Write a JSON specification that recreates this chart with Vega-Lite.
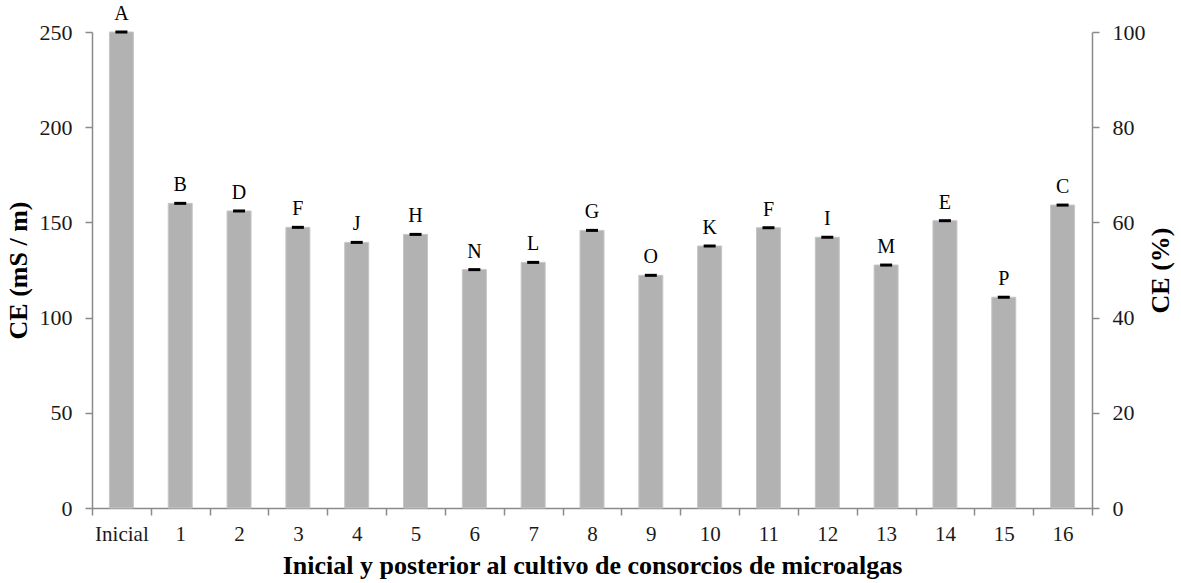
{
  "$schema": "https://vega.github.io/schema/vega-lite/v6.json",
  "autosize": "none",
  "width": 1000,
  "height": 476,
  "padding": {"left": 92, "top": 32, "right": 89, "bottom": 75},
  "background": "white",
  "config": {
    "view": {"stroke": null},
    "font": "Liberation Serif",
    "axis": {
      "labelFont": "Liberation Serif",
      "titleFont": "Liberation Serif",
      "labelFontSize": 22,
      "titleFontSize": 26,
      "titleFontWeight": "bold",
      "labelColor": "#1a1a1a",
      "titleColor": "#000000",
      "domainColor": "#8a8a8a",
      "tickColor": "#8a8a8a",
      "domainWidth": 1.5,
      "tickWidth": 1.5,
      "tickSize": 7,
      "grid": false
    }
  },
  "data": {
    "values": [
      {"muestra": "Inicial", "ce": 250.0, "grupo": "A"},
      {"muestra": "1", "ce": 160.0, "grupo": "B"},
      {"muestra": "2", "ce": 156.0, "grupo": "D"},
      {"muestra": "3", "ce": 147.4, "grupo": "F"},
      {"muestra": "4", "ce": 139.5, "grupo": "J"},
      {"muestra": "5", "ce": 143.7, "grupo": "H"},
      {"muestra": "6", "ce": 125.2, "grupo": "N"},
      {"muestra": "7", "ce": 129.0, "grupo": "L"},
      {"muestra": "8", "ce": 145.8, "grupo": "G"},
      {"muestra": "9", "ce": 122.2, "grupo": "O"},
      {"muestra": "10", "ce": 137.6, "grupo": "K"},
      {"muestra": "11", "ce": 147.2, "grupo": "F"},
      {"muestra": "12", "ce": 142.2, "grupo": "I"},
      {"muestra": "13", "ce": 127.6, "grupo": "M"},
      {"muestra": "14", "ce": 150.9, "grupo": "E"},
      {"muestra": "15", "ce": 110.7, "grupo": "P"},
      {"muestra": "16", "ce": 159.1, "grupo": "C"}
    ]
  },
  "encoding": {
    "x": {
      "field": "muestra",
      "type": "nominal",
      "sort": null,
      "scale": {"paddingInner": 0, "paddingOuter": 0},
      "axis": {
        "title": "Inicial y posterior al cultivo de consorcios de microalgas",
        "labelAngle": 0,
        "labelFontSize": 21,
        "tickBand": "extent",
        "labelPadding": 8,
        "titlePadding": 8
      }
    }
  },
  "layer": [
    {
      "layer": [
        {
          "mark": {"type": "bar", "color": "#b2b2b2", "size": 24, "stroke": "#c6c6c6", "strokeWidth": 1},
          "encoding": {
            "y": {
              "field": "ce",
              "type": "quantitative",
              "scale": {"domain": [0, 250], "nice": false},
              "axis": {
                "title": "CE (mS / m)",
                "values": [0, 50, 100, 150, 200, 250],
                "labelPadding": 13,
                "titlePadding": 8
              }
            }
          }
        },
        {
          "mark": {"type": "tick", "color": "#000000", "opacity": 1, "thickness": 3, "size": 12},
          "encoding": {
            "y": {"field": "ce", "type": "quantitative"}
          }
        },
        {
          "mark": {"type": "text", "baseline": "alphabetic", "dy": -12, "fontSize": 20, "font": "Liberation Serif", "color": "#000000"},
          "encoding": {
            "y": {"field": "ce", "type": "quantitative"},
            "text": {"field": "grupo", "type": "nominal"}
          }
        }
      ]
    },
    {
      "mark": {"type": "tick", "opacity": 0},
      "encoding": {
        "y": {
          "field": "ce",
          "type": "quantitative",
          "scale": {"domain": [0, 250], "nice": false},
          "axis": {
            "orient": "right",
            "title": "CE (%)",
            "titleAngle": -90,
            "values": [0, 50, 100, 150, 200, 250],
            "labelExpr": "format(datum.value / 2.5, 'd')",
            "labelPadding": 13,
            "titlePadding": 28
          }
        }
      }
    }
  ],
  "resolve": {"scale": {"y": "independent"}, "axis": {"y": "independent"}}
}
